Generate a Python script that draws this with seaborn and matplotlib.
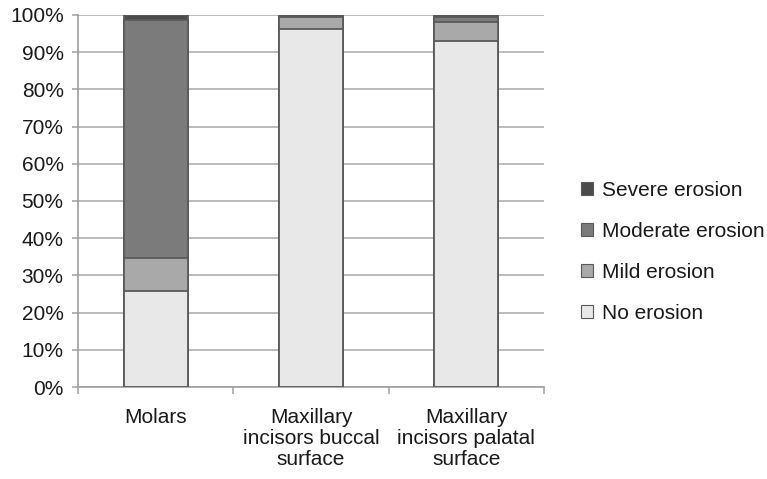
import numpy as np
import pandas as pd
import matplotlib
matplotlib.use("Agg")
import matplotlib.pyplot as plt
from matplotlib.patches import Patch
from matplotlib.ticker import FixedLocator, PercentFormatter
import seaborn as sns

# Share of teeth per erosion grade (%)
categories = ["Molars", "Maxillary\nincisors buccal\nsurface", "Maxillary\nincisors palatal\nsurface"]
no_erosion = [25.8, 96.2, 93.0]
mild_erosion = [9.0, 3.3, 5.2]
moderate_erosion = [63.7, 0.0, 1.3]
severe_erosion = [1.5, 0.5, 0.5]

series_names = ["No erosion", "Mild erosion", "Moderate erosion", "Severe erosion"]
series_values = [no_erosion, mild_erosion, moderate_erosion, severe_erosion]
series_colors = ["#e8e8e8", "#a9a9a9", "#7b7b7b", "#4b4b4b"]
edge = "#5a5a5a"
text_color = "#1a1a1a"
fs = 15

sns.set_theme(style="white")
plt.rcParams["font.family"] = ["Liberation Sans", "DejaVu Sans"]

fig = plt.figure(figsize=(7.67, 4.79), dpi=100)
ax = fig.add_axes([0.102, 0.192, 0.607, 0.777])

# Stacked bars: draw cumulative totals from the top segment down
cum = np.cumsum(np.array(series_values), axis=0)
for i in range(len(series_names) - 1, -1, -1):
    df = pd.DataFrame({"cat": categories, "val": cum[i]})
    sns.barplot(data=df, x="cat", y="val", color=series_colors[i], saturation=1,
                width=0.41, edgecolor=edge, linewidth=1.3, ax=ax, zorder=3)

ax.set_xlim(-0.5, 2.5)
ax.set_ylim(0, 100)
ax.set_xlabel("")
ax.set_ylabel("")

ax.yaxis.set_major_locator(FixedLocator(np.arange(0, 101, 10)))
ax.yaxis.set_major_formatter(PercentFormatter(decimals=0))
ax.grid(axis="y", color="#a8a8a8", linewidth=1.1, zorder=0)
ax.set_axisbelow(True)

for s in ["top", "right"]:
    ax.spines[s].set_visible(False)
for s in ["left", "bottom"]:
    ax.spines[s].set_color("#a0a0a0")
    ax.spines[s].set_linewidth(1.2)

ax.tick_params(axis="y", which="major", left=True, length=4.5, width=1.1,
               color="#a0a0a0", labelsize=fs, labelcolor=text_color, pad=6)
ax.tick_params(axis="x", which="major", bottom=False, labelsize=fs,
               labelcolor=text_color, pad=9)
ax.xaxis.set_minor_locator(FixedLocator([-0.5, 0.5, 1.5, 2.5]))
ax.tick_params(axis="x", which="minor", bottom=True, length=5, width=1.1,
               color="#a0a0a0")
for lbl in ax.get_xticklabels():
    lbl.set_multialignment("center")
    lbl.set_linespacing(1.15)

handles = [Patch(facecolor=series_colors[i], edgecolor=edge, linewidth=0.8, label=series_names[i])
           for i in range(len(series_names) - 1, -1, -1)]
fig.legend(handles=handles, loc="center left", bbox_to_anchor=(0.757, 0.474),
           frameon=False, fontsize=fs, handlelength=0.6, handleheight=0.6,
           handletextpad=0.45, labelspacing=1.05, borderpad=0, borderaxespad=0,
           labelcolor=text_color)

fig.savefig("out.png", dpi=100, facecolor="white")
